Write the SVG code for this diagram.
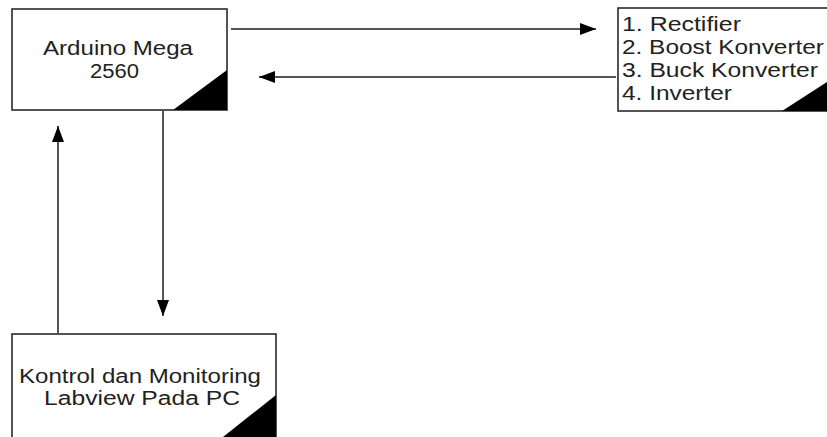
<svg xmlns="http://www.w3.org/2000/svg" width="827" height="437" viewBox="0 0 827 437">
<style>
.box{fill:#fff;stroke:#2a2a2a;stroke-width:1.6}
.tri{fill:#000}
.t{font-family:"Liberation Sans",Arial,sans-serif;font-size:20px;fill:#222}
.c{stroke:#555;stroke-width:2;fill:none;marker-end:url(#ah)}
</style>
<defs>
<marker id="ah" markerUnits="userSpaceOnUse" markerWidth="18" markerHeight="14" viewBox="0 0 18 14" refX="16" refY="7" orient="auto">
<path d="M0,1 L16,7 L0,13 Z" fill="#000"/>
</marker>
</defs>
<rect width="827" height="437" fill="#fff"/>
<g id="connectors">
<line class="c" x1="231" y1="29" x2="596" y2="29"/>
<line class="c" x1="616" y1="77" x2="259" y2="77"/>
<line class="c" x1="163" y1="111" x2="163" y2="316"/>
<line class="c" x1="58" y1="333" x2="58" y2="126"/>
</g>
<g id="arduino">
<rect class="box" x="12" y="9" width="215" height="101"/>
<polygon class="tri" points="173,110 227,70 227,110"/>
<text class="t" x="43" y="55" textLength="150" lengthAdjust="spacingAndGlyphs">Arduino Mega</text>
<text class="t" x="90" y="78" textLength="49" lengthAdjust="spacingAndGlyphs">2560</text>
</g>
<g id="converters">
<rect class="box" x="618" y="8" width="212" height="103"/>
<polygon class="tri" points="782,111 830,80 830,111"/>
<text class="t" x="622" y="31" textLength="119" lengthAdjust="spacingAndGlyphs">1. Rectifier</text>
<text class="t" x="622" y="54" textLength="202" lengthAdjust="spacingAndGlyphs">2. Boost Konverter</text>
<text class="t" x="622" y="77" textLength="196" lengthAdjust="spacingAndGlyphs">3. Buck Konverter</text>
<text class="t" x="622" y="100" textLength="110" lengthAdjust="spacingAndGlyphs">4. Inverter</text>
</g>
<g id="labview">
<rect class="box" x="12" y="334" width="264" height="106"/>
<polygon class="tri" points="223,437 276,395 276,437"/>
<text class="t" x="19" y="383" textLength="242" lengthAdjust="spacingAndGlyphs">Kontrol dan Monitoring</text>
<text class="t" x="44" y="405" textLength="196" lengthAdjust="spacingAndGlyphs">Labview Pada PC</text>
</g>
</svg>
